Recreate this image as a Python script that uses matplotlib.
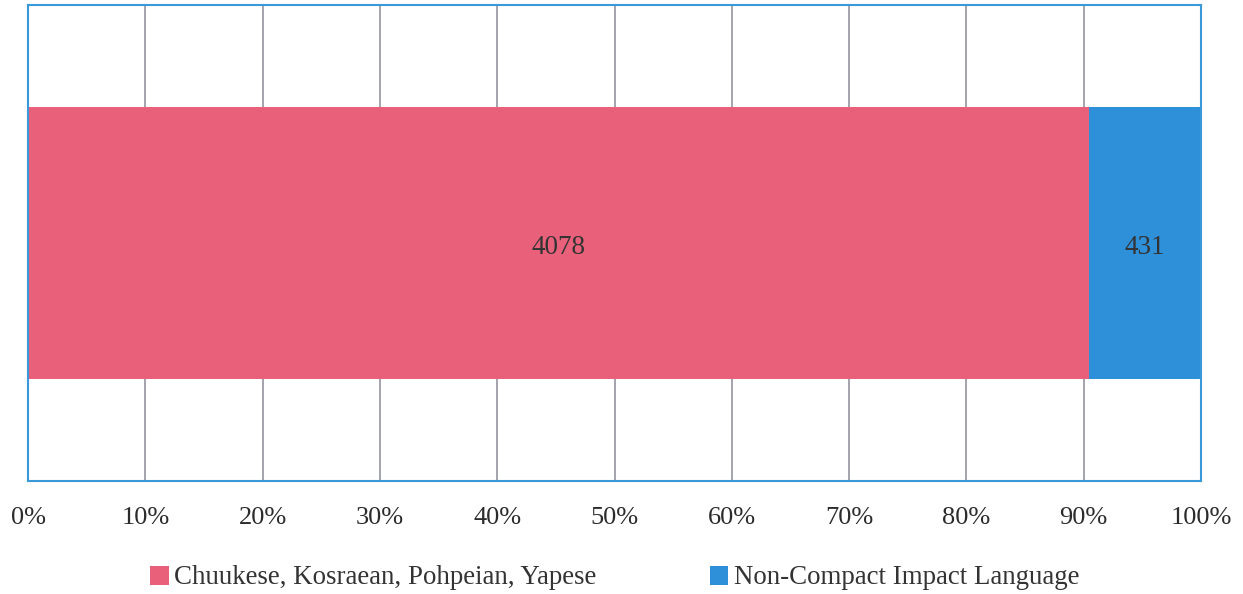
import matplotlib.pyplot as plt
import numpy as np

# Stacked share of speakers
categories = ["Chuukese, Kosraean, Pohpeian, Yapese", "Non-Compact Impact Language"]
counts = [4078, 431]
colors = ["#E8607A", "#2F90DA"]
tick_labels = ["0%", "10%", "20%", "30%", "40%", "50%", "60%", "70%", "80%", "90%", "100%"]

plt.rcParams['font.family'] = ['Liberation Serif', 'DejaVu Serif']

fig = plt.figure(figsize=(12.43, 5.94), dpi=100)
ax = fig.add_axes([28 / 1243, 1 - 481 / 594, (1201 - 28) / 1243, (481 - 5) / 594])

total = sum(counts)
shares = [c / total for c in counts]
left = 0
for cat, c, s, col in zip(categories, counts, shares, colors):
    ax.barh(0, s, left=left, height=0.57, color=col, label=cat, zorder=2)
    ax.text(left + s / 2, -0.01, str(c), ha='center', va='center',
            fontsize=19.5, color='#333333', zorder=3)
    left += s

ax.set_xlim(0, 1)
ax.set_ylim(-0.5, 0.5)
ax.set_xticks(np.linspace(0, 1, len(tick_labels)))
ax.set_xticklabels(tick_labels, fontsize=19, color='#2b2b2b')
ax.set_yticks([])
ax.tick_params(axis='x', length=0, pad=19)
ax.grid(axis='x', color='#8a8a98', linewidth=1.1, zorder=1)
for sp in ax.spines.values():
    sp.set_color('#3A9AD9')
    sp.set_linewidth(1.5)

fig.legend(loc='center', bbox_to_anchor=(0.5 - 7 / 1243, 1 - 578 / 594), ncol=2, frameon=False,
           fontsize=19.4, handlelength=0.7, handleheight=0.7, handletextpad=0.2,
           columnspacing=4.2, labelcolor='#333333')

fig.savefig('out.png', dpi=100)
